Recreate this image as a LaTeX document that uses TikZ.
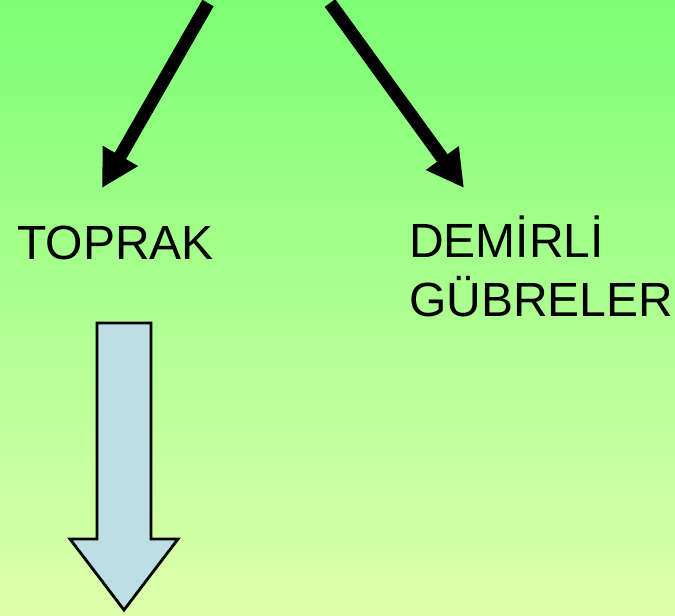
\documentclass[tikz,border=0pt]{standalone}
\usepackage{fontspec}
\setmainfont{Liberation Sans}
\usetikzlibrary{arrows.meta}
\definecolor{bgtop}{RGB}{124,255,116}
\definecolor{bgbot}{RGB}{222,255,172}
\definecolor{blockfill}{RGB}{187,223,227}
\begin{document}
\begin{tikzpicture}[x=1pt,y=-1pt,
  bigarrow/.style={line width=13pt,-{Triangle[length=37pt,width=38pt]}},
  label/.style={font=\fontsize{48}{59}\selectfont,inner sep=0pt,anchor=base west,align=left},
  block/.style={draw=black,line width=2.8pt,fill=blockfill,line join=miter}]
\useasboundingbox (0,0) rectangle (675,616);
\shade[top color=bgtop,bottom color=bgbot] (0,0) rectangle (675,616);
\coordinate (s1) at (208,3);
\coordinate (e1) at (102,188);
\coordinate (s2) at (330,3);
\coordinate (e2) at (464,188);
\draw[bigarrow] (s1) -- (e1);
\draw[bigarrow] (s2) -- (e2);
\node[label] (toprak) at (17,259) {TOPRAK};
\node[label] (demir) at (409,316) {DEMİRLİ\\GÜBRELER};
\draw[block] (97,323) -- (151,323) -- (151,539) -- (178,539) -- (124,610) -- (70,539) -- (97,539) -- cycle;
\end{tikzpicture}
\end{document}
